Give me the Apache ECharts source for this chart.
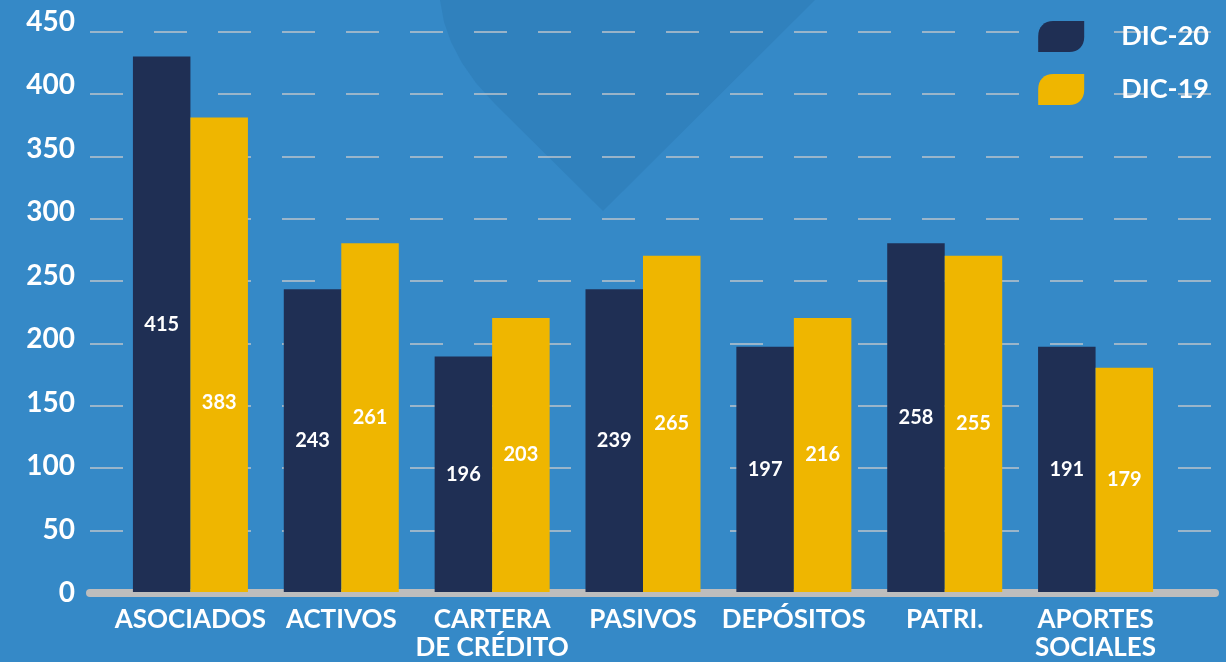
<!DOCTYPE html>
<html>
<head>
<meta charset="utf-8">
<title>DIC-20 vs DIC-19</title>
<script src="https://cdn.jsdelivr.net/npm/echarts@6/dist/echarts.min.js"></script>
<style>
  html, body { margin: 0; padding: 0; background: #3589c7; }
  #main { width: 1226px; height: 662px; }
</style>
</head>
<body>
<div id="main"></div>
<script>
// categorias del eje x
var categories = ['ASOCIADOS', 'ACTIVOS', 'CARTERA\nDE CRÉDITO', 'PASIVOS', 'DEPÓSITOS', 'PATRI.', 'APORTES\nSOCIALES']
// altura de las barras
var dic20 = [430, 243, 189, 243, 197, 280, 197]
var dic19 = [381, 280, 220, 270, 220, 270, 180]
// numeros que se muestran dentro de las barras
var dic20Labels = [415, 243, 196, 239, 197, 258, 191]
var dic19Labels = [383, 261, 203, 265, 216, 255, 179]
var yTicks = [0, 50, 100, 150, 200, 250, 300, 350, 400, 450]

var font = 'Lato, "Noto Sans", sans-serif'
var leaf = 'path://M0,15 C0,6 6,0 15,0 L46,0 L46,16 C46,25 40,31 31,31 L0,31 Z'

var myChart = echarts.init(document.getElementById('main'))

let barLabel = {
  show: true,
  position: 'inside',
  color: '#fff',
  fontFamily: font,
  fontWeight: 'bold',
  fontSize: 20
}

var option = {
  backgroundColor: '#3589c7',
  animation: false,
  // forma de fondo (decoracion)
  graphic: [{
    type: 'polygon',
    z: -10,
    silent: true,
    shape: {
      points: [[440, 0], [444, 22], [451, 42], [462, 63], [476, 83], [495, 104], [603, 211], [815, 0]]
    },
    style: { fill: '#3081bd' }
  }],
  legend: {
    orient: 'vertical',
    right: 12,
    top: 16,
    itemWidth: 46,
    itemHeight: 31,
    itemGap: 22,
    icon: leaf,
    data: ['DIC-20', 'DIC-19'],
    textStyle: {
      color: '#fff',
      fontFamily: font,
      fontWeight: 'bold',
      fontSize: 27,
      padding: [0, 0, 4, 32]
    }
  },
  grid: [
    { left: 90, right: 11, top: 21.5, bottom: 69 },  // etiquetas eje y
    { left: 90, right: 11, top: 31.5, bottom: 69 },  // lineas
    { left: 115, right: 55, top: 31.5, bottom: 69 }  // barras
  ],
  xAxis: [
    { gridIndex: 0, type: 'value', min: 0, max: 1, show: false },
    {
      gridIndex: 1, type: 'value', min: 0, max: 1,
      offset: 4,
      axisLine: { show: true, lineStyle: { color: '#bdbdbd', width: 8 } },
      axisTick: { show: false },
      axisLabel: { show: false },
      splitLine: { show: false }
    },
    {
      gridIndex: 2, type: 'category', data: categories,
      axisLine: { show: false },
      axisTick: { show: false },
      axisLabel: {
        margin: 14,
        color: '#fff',
        fontFamily: font,
        fontWeight: 'bold',
        fontSize: 26,
        lineHeight: 28,
        interval: 0
      }
    }
  ],
  yAxis: [
    {
      gridIndex: 0, type: 'value', min: 0, max: 450, interval: 50,
      axisLine: { show: false },
      axisTick: { show: false },
      splitLine: { show: false },
      axisLabel: {
        margin: 15,
        color: '#fff',
        fontFamily: font,
        fontWeight: 'bold',
        fontSize: 28,
        formatter: function (v) { return yTicks.indexOf(v) >= 0 ? String(v) : '' }
      }
    },
    {
      gridIndex: 1, type: 'value', min: 0, max: 450, interval: 50,
      axisLine: { show: false },
      axisTick: { show: false },
      axisLabel: { show: false },
      splitLine: {
        show: true,
        lineStyle: { color: '#bcc4cc', width: 1.5, type: [33, 31] }
      }
    },
    { gridIndex: 2, type: 'value', min: 0, max: 450, show: false, splitLine: { show: false } }
  ],
  series: [
    {
      name: 'DIC-20',
      type: 'bar',
      xAxisIndex: 2,
      yAxisIndex: 2,
      barWidth: 57.5,
      barGap: '0%',
      data: dic20,
      itemStyle: { color: '#1f2f54' },
      label: Object.assign({}, barLabel, {
        formatter: function (p) { return dic20Labels[p.dataIndex] }
      })
    },
    {
      name: 'DIC-19',
      type: 'bar',
      xAxisIndex: 2,
      yAxisIndex: 2,
      barWidth: 57.5,
      barGap: '0%',
      data: dic19.map(function (v, i) {
        // la etiqueta de ASOCIADOS esta mas abajo en el original
        return i === 0 ? { value: v, label: { offset: [0, 48] } } : v
      }),
      itemStyle: { color: '#efb600' },
      label: Object.assign({}, barLabel, {
        formatter: function (p) { return dic19Labels[p.dataIndex] }
      })
    }
  ]
}

myChart.setOption(option, true)
</script>
</body>
</html>
